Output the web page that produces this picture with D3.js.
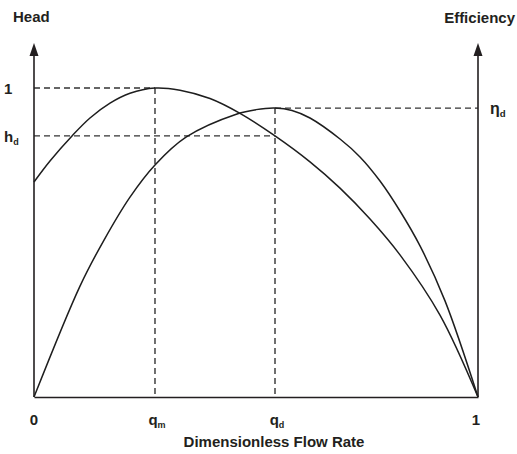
<!DOCTYPE html>
<html><head><meta charset="utf-8">
<script src="https://cdn.jsdelivr.net/npm/d3@7"></script>
<style>
body{margin:0;background:#fff;}
text{font-family:"Liberation Sans",Arial,sans-serif;font-weight:bold;fill:#231f20;}
</style></head>
<body><svg id="c" width="517" height="454"></svg>
<script>
// Dimensionless flow rate samples and curves
const headQ = [0, 0.036, 0.0856, 0.1261, 0.1712, 0.2162, 0.2725, 0.3288, 0.3964, 0.464, 0.5428, 0.6216, 0.6892, 0.7568, 0.8243, 0.9144, 1];
const headH = [0.696, 0.764, 0.845, 0.903, 0.951, 0.983, 1.0, 0.993, 0.966, 0.918, 0.845, 0.761, 0.676, 0.576, 0.460, 0.265, 0];
const effQ  = [0, 0.1036, 0.1577, 0.2162, 0.2725, 0.3423, 0.4572, 0.5, 0.5428, 0.5811, 0.6216, 0.6892, 0.7342, 0.7793, 0.8243, 0.8694, 0.9257, 1];
const effE  = [0, 0.359, 0.508, 0.647, 0.751, 0.841, 0.916, 0.930, 0.935, 0.9275, 0.903, 0.835, 0.777, 0.699, 0.602, 0.489, 0.311, 0];
// Reference values
const qm = 0.2725, qd = 0.5428, hd = 0.845, etaD = 0.935, hMax = 1;
// Tick labels
const xTickVals = [0, qm, qd, 1];
const xTickMain = ["0", "q", "q", "1"];
const xTickSub  = ["", "m", "d", ""];
const yTickVals = [hMax, hd];
const yTickMain = ["1", "h"];
const yTickSub  = ["", "d"];
const rTickVals = [etaD];
const rTickMain = ["η"];
const rTickSub  = ["d"];

const svg = d3.select("#c");
const x = d3.scaleLinear().domain([0, 1]).range([34, 478]);
const y = d3.scaleLinear().domain([0, 1]).range([397, 88]);
const ink = "#231f20";

// dashed guide lines
const dash = "6,4";
const guides = [
  [0, hMax, qm, hMax], [qm, hMax, qm, 0],
  [0, hd, qd, hd], [qd, etaD, qd, 0],
  [qd, etaD, 1, etaD]
];
svg.append("g").selectAll("line").data(guides).join("line")
  .attr("x1", d => x(d[0])).attr("y1", d => y(d[1]))
  .attr("x2", d => x(d[2])).attr("y2", d => y(d[3]))
  .attr("stroke", "#333").attr("stroke-width", 1.4).attr("stroke-dasharray", dash);

// bottom axis
const xAxis = svg.append("g").attr("transform", `translate(0,${y(0)})`)
  .call(d3.axisBottom(x).tickValues([]).tickSizeOuter(0));
xAxis.select(".domain").attr("stroke", ink).attr("stroke-width", 1.6);

// vertical axes with arrows
const topY = 43;
[0, 1].forEach(v => {
  svg.append("line").attr("x1", x(v)).attr("x2", x(v)).attr("y1", y(0)).attr("y2", topY + 6)
    .attr("stroke", ink).attr("stroke-width", 1.6);
  svg.append("path").attr("d", `M${x(v)-4.5},${topY+13} L${x(v)},${topY} L${x(v)+4.5},${topY+13} Z`).attr("fill", ink);
});

// curves
const line = d3.line().x(d => x(d[0])).y(d => y(d[1])).curve(d3.curveCatmullRom.alpha(0.5));
svg.append("path").datum(headQ.map((q,i)=>[q, headH[i]])).attr("d", line)
  .attr("fill","none").attr("stroke","#1e1e1e").attr("stroke-width",1.5);
svg.append("path").datum(effQ.map((q,i)=>[q, effE[i]])).attr("d", line)
  .attr("fill","none").attr("stroke","#1e1e1e").attr("stroke-width",1.5);

function lab(g, xp, yp, main, sub, anchor, size) {
  const t = g.append("text").attr("x", xp).attr("y", yp).attr("text-anchor", anchor).style("font-size", size + "px");
  t.append("tspan").text(main);
  if (sub) t.append("tspan").attr("dy", 3).style("font-size", (size*0.6) + "px").text(sub);
  return t;
}
// x tick labels
const gx = svg.append("g");
xTickVals.forEach((v,i) => {
  const t = lab(gx, x(v), 425, xTickMain[i], xTickSub[i], "middle", 15);
  if (xTickSub[i]) t.attr("x", x(v) + 2);
  if (v === 1) t.attr("x", x(v) - 2);
});
// left y tick labels
const gy = svg.append("g");
yTickVals.forEach((v,i) => lab(gy, 4, y(v) + 6, yTickMain[i], yTickSub[i], "start", 15));
// right tick labels
const gr = svg.append("g");
rTickVals.forEach((v,i) => lab(gr, 490, y(v) + 6, rTickMain[i], rTickSub[i], "start", 16));

// titles
svg.append("text").attr("x", 13).attr("y", 22).style("font-size","15px").text("Head");
svg.append("text").attr("x", 515).attr("y", 23).attr("text-anchor","end").style("font-size","15px").text("Efficiency");
svg.append("text").attr("x", 274).attr("y", 447).attr("text-anchor","middle").style("font-size","15px").text("Dimensionless Flow Rate");
</script></body></html>
